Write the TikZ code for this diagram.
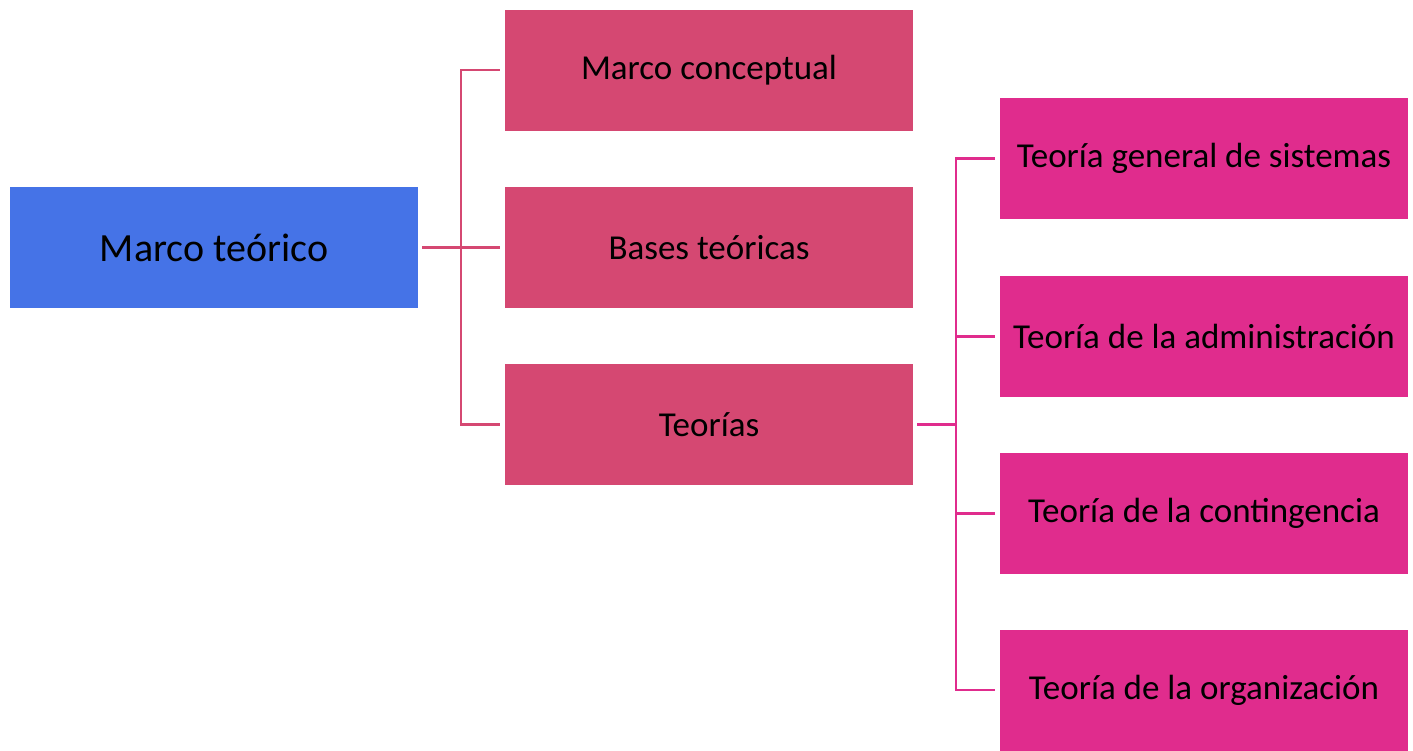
\documentclass[tikz,border=0pt]{standalone}
\usepackage{fontspec}
\setmainfont{Carlito}
\definecolor{cblue}{HTML}{4573E7}
\definecolor{cmid}{HTML}{D54872}
\definecolor{cright}{HTML}{E02C8D}
\begin{document}
\begin{tikzpicture}[x=1pt,y=-1pt,
  box/.style={rectangle,inner sep=0pt,minimum width=408pt,minimum height=121pt,text=black},
  midbox/.style={box,fill=cmid,font=\fontsize{35}{42}\selectfont},
  rbox/.style={box,fill=cright,font=\fontsize{35}{42}\selectfont},
  lmid/.style={draw=cmid,line width=2.5pt},
  lright/.style={draw=cright,line width=2.5pt}]
\useasboundingbox (0,0) rectangle (1413,750);
\node[box,fill=cblue,font=\fontsize{40}{48}\selectfont] (b) at (214,247.5) {Marco teórico};
\node[midbox] (m1) at (709,70) {Marco conceptual};
\node[midbox] (m2) at (709,247.5) {Bases teóricas};
\node[midbox] (m3) at (709,424.5) {Teorías};
\node[rbox] (r1) at (1204,158.5) {Teoría general de sistemas};
\node[rbox] (r2) at (1204,336.5) {Teoría de la administración};
\node[rbox] (r3) at (1204,513.5) {Teoría de la contingencia};
\node[rbox] (r4) at (1204,690) {Teoría de la organización};
\coordinate (j1) at (461,247.5);
\coordinate (j2) at (956,424.5);
\draw[lmid,shorten <=4pt] (b.east) -- (j1);
\draw[lmid,shorten >=5pt] (j1) |- (m1.west);
\draw[lmid,shorten >=5pt] (j1) -- (m2.west);
\draw[lmid,shorten >=5pt] (j1) |- (m3.west);
\draw[lright,shorten <=4pt] (m3.east) -- (j2);
\draw[lright,shorten >=5pt] (j2) |- (r1.west);
\draw[lright,shorten >=5pt] (j2) |- (r2.west);
\draw[lright,shorten >=5pt] (j2) |- (r3.west);
\draw[lright,shorten >=5pt] (j2) |- (r4.west);
\end{tikzpicture}
\end{document}
